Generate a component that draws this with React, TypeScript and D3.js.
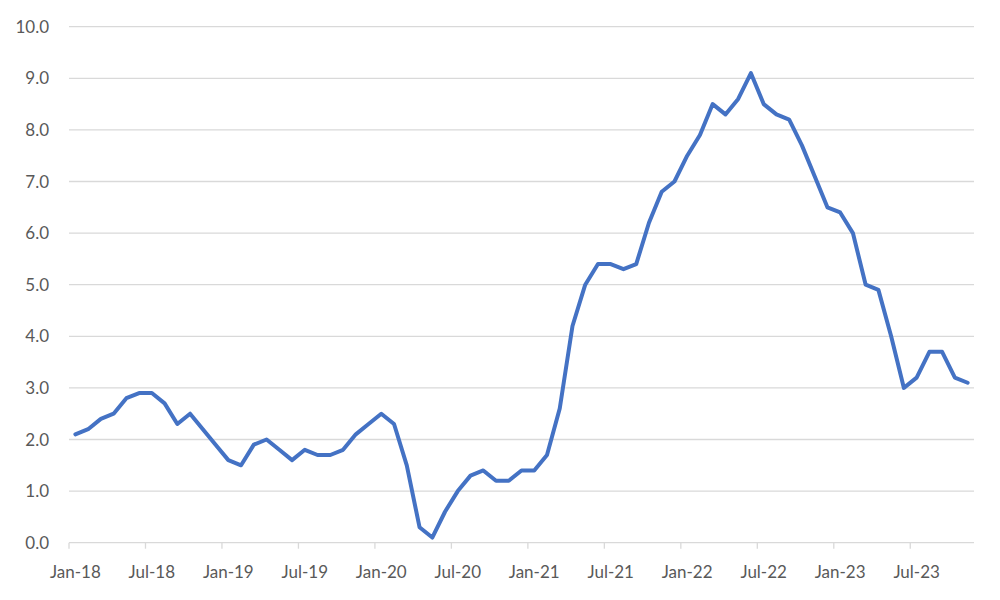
import React from "react";
import * as d3 from "d3";

const months: string[] = [];
const monthNames = ["Jan","Feb","Mar","Apr","May","Jun","Jul","Aug","Sep","Oct","Nov","Dec"];
const years = [18, 19, 20, 21, 22, 23];
for (const y of years) for (const m of monthNames) months.push(`${m}-${y}`);
const categories = months.slice(0, 71); // Jan-18 .. Nov-23

const values = [
  2.1, 2.2, 2.4, 2.5, 2.8, 2.9, 2.9, 2.7, 2.3, 2.5, 2.2, 1.9,
  1.6, 1.5, 1.9, 2.0, 1.8, 1.6, 1.8, 1.7, 1.7, 1.8, 2.1, 2.3,
  2.5, 2.3, 1.5, 0.3, 0.1, 0.6, 1.0, 1.3, 1.4, 1.2, 1.2, 1.4,
  1.4, 1.7, 2.6, 4.2, 5.0, 5.4, 5.4, 5.3, 5.4, 6.2, 6.8, 7.0,
  7.5, 7.9, 8.5, 8.3, 8.6, 9.1, 8.5, 8.3, 8.2, 7.7, 7.1, 6.5,
  6.4, 6.0, 5.0, 4.9, 4.0, 3.0, 3.2, 3.7, 3.7, 3.2, 3.1,
];

const yTicks = [0, 1, 2, 3, 4, 5, 6, 7, 8, 9, 10];
const xTickLabels = ["Jan-18","Jul-18","Jan-19","Jul-19","Jan-20","Jul-20","Jan-21","Jul-21","Jan-22","Jul-22","Jan-23","Jul-23"];

export default function App() {
  const W = 1000, H = 600;
  const left = 69, right = 974, top = 26.7, bottom = 542.7;
  const x = d3.scaleBand<string>().domain(categories).range([left, right]).paddingInner(0).paddingOuter(0);
  const y = d3.scaleLinear().domain([0, 10]).range([bottom, top]);
  const bw = x.bandwidth();
  const line = d3.line<number>()
    .x((_, i) => (x(categories[i]) as number) + bw / 2)
    .y((d) => y(d));
  const font = "Lato, 'Open Sans', sans-serif";
  return (
    <svg width={W} height={H} style={{ position: "absolute", left: 0, top: 0, background: "#fff" }}>
      {yTicks.map((t) => (
        <g key={t}>
          {t > 0 && <line x1={left} x2={right} y1={y(t)} y2={y(t)} stroke="#d9d9d9" strokeWidth={1.3} />}
          <text x={49} y={y(t)} dy="0.36em" textAnchor="end" fontFamily={font} fontSize={17} fill="#595959">
            {t.toFixed(1)}
          </text>
        </g>
      ))}
      <line x1={left} x2={right} y1={bottom} y2={bottom} stroke="#d9d9d9" strokeWidth={1.3} />
      {categories.map((c, i) =>
        i % 6 === 0 ? (
          <line key={c} x1={x(c) as number} x2={x(c) as number} y1={bottom} y2={bottom + 6} stroke="#d9d9d9" strokeWidth={1.3} />
        ) : null
      )}
      {xTickLabels.map((lab) => (
        <text key={lab} x={(x(lab) as number) + bw / 2} y={578} textAnchor="middle" fontFamily={font} fontSize={17} fill="#595959">
          {lab}
        </text>
      ))}
      <path d={line(values) || ""} fill="none" stroke="#4472C4" strokeWidth={4} strokeLinejoin="round" strokeLinecap="round" />
    </svg>
  );
}
